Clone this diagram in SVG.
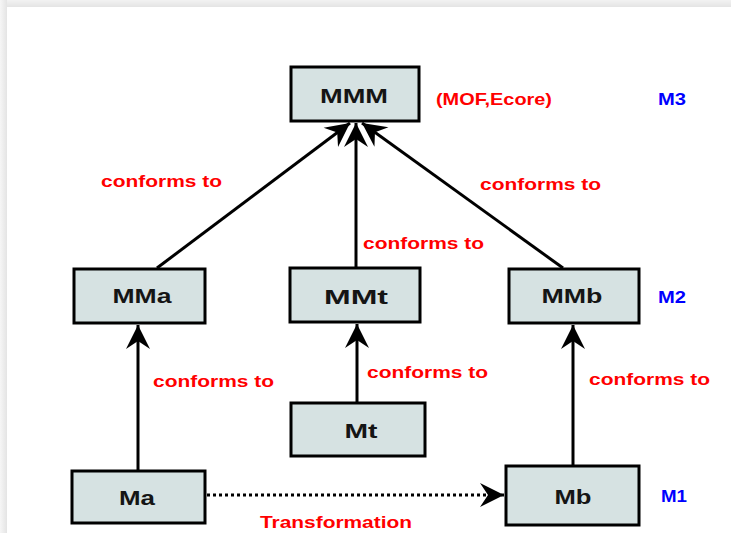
<svg xmlns="http://www.w3.org/2000/svg" width="731" height="533" viewBox="0 0 731 533">
  <defs>
    <marker id="head" markerUnits="userSpaceOnUse" markerWidth="28" markerHeight="28" viewBox="-26 -14 28 28" refX="0" refY="0" orient="auto">
      <path d="M0,0 L-24,-12 L-16,0 L-24,12 Z" fill="#000"/>
    </marker>
    <linearGradient id="topband" x1="0" y1="0" x2="0" y2="1">
      <stop offset="0" stop-color="#f2f2f2"/>
      <stop offset="1" stop-color="#e4e4e4"/>
    </linearGradient>
    <linearGradient id="leftband" x1="0" y1="0" x2="1" y2="0">
      <stop offset="0" stop-color="#f6f6f6"/>
      <stop offset="1" stop-color="#e4e4e4"/>
    </linearGradient>
  </defs>
  <style>
    .box { fill: #d6e2e2; stroke: #000; stroke-width: 3; }
    .name { font-family: "Liberation Sans", Arial, sans-serif; font-weight: bold; font-size: 21px; fill: #151515; text-anchor: middle; }
    .rel { font-family: "Liberation Sans", Arial, sans-serif; font-weight: bold; font-size: 17px; fill: #ff0000; }
    .lvl { font-family: "Liberation Sans", Arial, sans-serif; font-weight: bold; font-size: 17px; fill: #0000ff; }
    .edge { stroke: #000; stroke-width: 3; fill: none; marker-end: url(#head); }
    .dots { stroke: #000; stroke-width: 3; fill: none; stroke-dasharray: 3 3; marker-end: url(#head); }
  </style>

  <!-- page background with soft frame -->
  <rect x="0" y="0" width="731" height="533" fill="#ffffff"/>
  <rect x="0" y="0" width="731" height="7" fill="url(#topband)"/>
  <rect x="0" y="0" width="7" height="533" fill="url(#leftband)"/>

  <!-- connectors -->
  <g id="connectors">
    <line class="edge" x1="157" y1="268" x2="350" y2="123"/>
    <line class="edge" x1="356" y1="267" x2="356" y2="123"/>
    <line class="edge" x1="563" y1="268" x2="362" y2="123"/>
    <line class="edge" x1="138" y1="470" x2="138" y2="325"/>
    <line class="edge" x1="357" y1="402" x2="357" y2="324"/>
    <line class="edge" x1="573" y1="465" x2="573" y2="325"/>
    <line class="dots" x1="207" y1="495" x2="504" y2="495"/>
  </g>

  <!-- connector labels -->
  <g id="labels">
    <text class="rel" x="101" y="187" textLength="121" lengthAdjust="spacingAndGlyphs">conforms to</text>
    <text class="rel" x="480" y="190" textLength="121" lengthAdjust="spacingAndGlyphs">conforms to</text>
    <text class="rel" x="363" y="249" textLength="121" lengthAdjust="spacingAndGlyphs">conforms to</text>
    <text class="rel" x="153" y="387" textLength="121" lengthAdjust="spacingAndGlyphs">conforms to</text>
    <text class="rel" x="367" y="378" textLength="121" lengthAdjust="spacingAndGlyphs">conforms to</text>
    <text class="rel" x="589" y="385" textLength="121" lengthAdjust="spacingAndGlyphs">conforms to</text>
    <text class="rel" x="436" y="105" textLength="116" lengthAdjust="spacingAndGlyphs">(MOF,Ecore)</text>
    <text class="rel" x="260" y="528" textLength="152" lengthAdjust="spacingAndGlyphs">Transformation</text>
  </g>

  <!-- level markers -->
  <g id="levels">
    <text class="lvl" x="658" y="105" textLength="28" lengthAdjust="spacingAndGlyphs">M3</text>
    <text class="lvl" x="658" y="303" textLength="28" lengthAdjust="spacingAndGlyphs">M2</text>
    <text class="lvl" x="661" y="502" textLength="26" lengthAdjust="spacingAndGlyphs">M1</text>
  </g>

  <g id="MMM">
    <rect class="box" x="291" y="67" width="128" height="54"/>
    <text class="name" x="354" y="103" textLength="68" lengthAdjust="spacingAndGlyphs">MMM</text>
  </g>
  <g id="MMa">
    <rect class="box" x="74" y="269" width="131" height="54"/>
    <text class="name" x="142" y="303" textLength="59" lengthAdjust="spacingAndGlyphs">MMa</text>
  </g>
  <g id="MMt">
    <rect class="box" x="290" y="268" width="130" height="54"/>
    <text class="name" x="356" y="304" textLength="64" lengthAdjust="spacingAndGlyphs">MMt</text>
  </g>
  <g id="MMb">
    <rect class="box" x="509" y="269" width="130" height="54"/>
    <text class="name" x="572" y="303" textLength="61" lengthAdjust="spacingAndGlyphs">MMb</text>
  </g>
  <g id="Mt">
    <rect class="box" x="291" y="403" width="134" height="53"/>
    <text class="name" x="361" y="438" textLength="33" lengthAdjust="spacingAndGlyphs">Mt</text>
  </g>
  <g id="Ma">
    <rect class="box" x="72" y="471" width="133" height="52"/>
    <text class="name" x="137" y="505" textLength="36" lengthAdjust="spacingAndGlyphs">Ma</text>
  </g>
  <g id="Mb">
    <rect class="box" x="506" y="466" width="133" height="59"/>
    <text class="name" x="573" y="504" textLength="37" lengthAdjust="spacingAndGlyphs">Mb</text>
  </g>
</svg>
